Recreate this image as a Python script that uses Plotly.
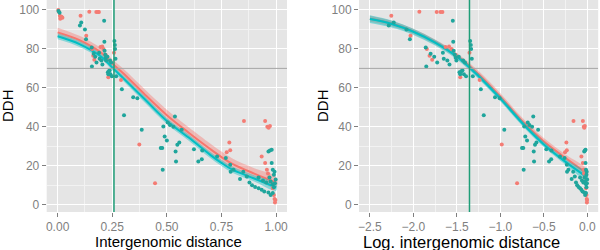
import numpy as np
import plotly.graph_objects as go

# ---------------- data ----------------
red_dist = [0.003, 0.006, 0.010, 0.014, 0.018, 0.022, 0.012,
            0.105, 0.131, 0.145, 0.177, 0.185, 0.189,
            0.158, 0.163, 0.168, 0.196, 0.204, 0.210, 0.220,
            0.232, 0.258, 0.290, 0.374, 0.446,
            0.774, 0.786, 0.790, 0.853,
            0.950, 0.960, 0.966, 0.972,
            0.934, 0.950, 0.958, 0.963, 0.968, 0.975, 0.985,
            0.990, 0.993, 0.997, 0.995]
red_ddh = [100, 99, 97, 96, 96.5, 96, 95.5,
           97, 86.8, 99.1, 99, 99, 99,
           80, 76.5, 74.5, 81, 81.2, 80, 77,
           65.5, 78, 64, 31, 11.1,
           27, 32, 28, 43,
           43, 40, 39.5, 40.5,
           24.8, 21.5, 18, 16, 14, 12, 8.5,
           5, 3, 2.5, 1.2]

teal_dist = [0.004, 0.009,
             0.102, 0.108, 0.125, 0.130, 0.156, 0.157, 0.165, 0.172, 0.178,
             0.190, 0.192, 0.200, 0.205, 0.213, 0.214, 0.215, 0.218, 0.220,
             0.222, 0.228, 0.230, 0.232, 0.235, 0.238, 0.242, 0.240, 0.245,
             0.248, 0.260, 0.262, 0.263, 0.265, 0.268,
             0.294, 0.304, 0.346, 0.365, 0.385,
             0.472, 0.479, 0.481, 0.484, 0.490, 0.500, 0.504, 0.514, 0.530,
             0.537, 0.540, 0.542, 0.548, 0.557, 0.568,
             0.624, 0.644, 0.660, 0.662, 0.730, 0.770, 0.790, 0.792, 0.805,
             0.835, 0.850, 0.866, 0.878, 0.890, 0.904, 0.920, 0.934, 0.946,
             0.965, 0.920, 0.940, 0.955,
             0.965, 0.972, 0.980, 0.980, 0.985, 0.990,
             0.970, 0.975, 0.985, 0.990, 0.995, 0.998, 0.993, 0.975, 0.985]
teal_ddh = [99.5, 98.5,
            92, 93.5, 90, 85, 80.7, 71, 77.5, 76, 73,
            78, 75, 74, 72, 94.4, 83.7, 79, 77, 75.5,
            74, 76, 68, 67, 68.5, 69, 67, 74, 73,
            66, 84, 82, 80, 75, 66,
            59.3, 46, 55.2, 54.7, 38.5,
            29.1, 29.1, 18, 40.2, 35, 33, 42.2, 41, 40,
            45.3, 27.3, 22.2, 30.8, 32, 38.5,
            28.5, 22.2, 23.4, 27.8, 24.8, 24, 20.5, 17, 18,
            13.3, 17, 14.5, 11.4, 10, 9.1, 8.5, 7.7, 6.8,
            6.3, 14, 12.5, 11.5,
            27.3, 27.8, 28.2, 21.4, 18, 15.4,
            14, 12, 10.5, 9, 11, 13, 17, 5, 6]

# fitted curves (left panel: distance)
fit_dist = [0.0, 0.1, 0.2, 0.25, 0.3, 0.4, 0.5, 0.6, 0.7, 0.75, 0.8, 0.9, 1.0]
fit_red_left = [88.5, 84.5, 78, 72.5, 67.5, 56.5, 46, 37, 28.5, 24.5, 21, 16, 11.5]
fit_teal_left = [86.5, 82.5, 76, 70.5, 65, 54, 43, 34.5, 25.5, 21.5, 18, 13.5, 9]
band_red_left = [2.4, 2.2, 2.2, 2.2, 2.4, 2.7, 2.8, 2.8, 2.8, 2.8, 2.8, 2.8, 2.8]
band_teal_left = [1.6, 1.5, 1.4, 1.4, 1.5, 1.6, 1.6, 1.6, 1.6, 1.6, 1.6, 1.6, 1.8]

# right panel: log distance
fit_log = [-2.5, -2.25, -2.0, -1.75, -1.5, -1.25, -1.0, -0.75, -0.5, -0.25, 0.0]
fit_red_right = [95.5, 93, 89, 83.5, 76.5, 67, 55.5, 43, 32.5, 24, 16]
fit_teal_right = [95.3, 92.8, 88.8, 83.2, 76, 66, 54.5, 42, 31, 22, 14]
band_red_right = [1.5, 1.4, 1.3, 1.3, 1.4, 1.6, 1.8, 1.8, 1.8, 1.8, 2.0]
band_teal_right = [2.0, 1.8, 1.6, 1.5, 1.4, 1.4, 1.4, 1.4, 1.4, 1.5, 1.8]

threshold_ddh = 70
threshold_dist = 0.258

x_ticks_left = [0.0, 0.25, 0.5, 0.75, 1.0]
x_ticklabels_left = ["0.00", "0.25", "0.50", "0.75", "1.00"]
x_ticks_right = [-2.5, -2.0, -1.5, -1.0, -0.5, 0.0]
x_ticklabels_right = ["\u22122.5", "\u22122.0", "\u22121.5", "\u22121.0", "\u22120.5", "0.0"]
y_ticks = [0, 20, 40, 60, 80, 100]

# ---------------- styling ----------------
RED = "#F8766D"
TEAL = "#00BFC4"
RED_PT = "#F47C74"
TEAL_PT = "#1FA59C"
VLINE = "#1F9E78"
FONT = "Liberation Sans"

fig = go.Figure()


def add_fit(xs, ys, band, color, fill, xa, ya):
    xs = list(xs)
    up = [y + b for y, b in zip(ys, band)]
    lo = [y - b for y, b in zip(ys, band)]
    fig.add_trace(go.Scatter(x=xs + xs[::-1], y=up + lo[::-1], fill="toself",
                             fillcolor=fill, line=dict(width=0, shape="spline"), mode="lines",
                             hoverinfo="skip", showlegend=False, xaxis=xa, yaxis=ya))
    fig.add_trace(go.Scatter(x=xs, y=ys, mode="lines", line=dict(color=color, width=2, shape="spline"),
                             showlegend=False, xaxis=xa, yaxis=ya))


def add_points(xs, ys, color, xa, ya):
    fig.add_trace(go.Scatter(x=xs, y=ys, mode="markers",
                             marker=dict(color=color, size=4, line=dict(width=0)),
                             showlegend=False, xaxis=xa, yaxis=ya))


# left panel
add_fit(fit_dist, fit_red_left, band_red_left, RED, "rgba(248,118,109,0.40)", "x", "y")
add_fit(fit_dist, fit_teal_left, band_teal_left, TEAL, "rgba(0,191,196,0.40)", "x", "y")
add_points(red_dist, red_ddh, RED_PT, "x", "y")
add_points(teal_dist, teal_ddh, TEAL_PT, "x", "y")

# right panel
log_red = list(np.log(np.array(red_dist)))
log_teal = list(np.log(np.array(teal_dist)))
add_fit(fit_log, fit_red_right, band_red_right, RED, "rgba(248,118,109,0.40)", "x2", "y2")
add_fit(fit_log, fit_teal_right, band_teal_right, TEAL, "rgba(0,191,196,0.45)", "x2", "y2")
add_points(log_red, red_ddh, RED_PT, "x2", "y2")
add_points(log_teal, teal_ddh, TEAL_PT, "x2", "y2")

# reference lines
for xa, ya, xr, xv in [("x", "y", [-0.05, 1.05], threshold_dist),
                       ("x2", "y2", [-2.625, 0.125], float(np.log(threshold_dist)))]:
    fig.add_trace(go.Scatter(x=xr, y=[threshold_ddh, threshold_ddh], mode="lines",
                             line=dict(color="#A3A3A3", width=1), showlegend=False,
                             xaxis=xa, yaxis=ya))
    fig.add_trace(go.Scatter(x=[xv, xv], y=[-10, 120], mode="lines",
                             line=dict(color=VLINE, width=1.5), showlegend=False,
                             xaxis=xa, yaxis=ya))

tickfont = dict(family=FONT, size=12, color="#7F7F7F")
common_axis = dict(showline=False, zeroline=False, ticks="outside", ticklen=4,
                   tickcolor="#7F7F7F", tickwidth=1, gridcolor="white", gridwidth=1.1,
                   tickfont=tickfont, fixedrange=True, automargin=False)

minor_x_left = [0.125, 0.375, 0.625, 0.875]
minor_x_right = [-2.25, -1.75, -1.25, -0.75, -0.25]
minor_y = [10, 30, 50, 70, 90]

fig.update_layout(
    width=600, height=250,
    margin=dict(l=0, r=0, t=0, b=0, autoexpand=False),
    paper_bgcolor="white", plot_bgcolor="#E5E5E5",
    xaxis=dict(domain=[46.7 / 600, 287 / 600], range=[-0.05, 1.05], anchor="y",
               tickvals=x_ticks_left, ticktext=x_ticklabels_left,
               minor=dict(tickvals=minor_x_left, showgrid=True, gridcolor="#F2F2F2", gridwidth=0.6, ticks=""),
               **common_axis),
    yaxis=dict(domain=[1 - 212 / 250, 1], range=[-3.7, 105.1], anchor="x",
               tickvals=y_ticks,
               minor=dict(tickvals=minor_y, showgrid=True, gridcolor="#F2F2F2", gridwidth=0.6, ticks=""),
               **common_axis),
    xaxis2=dict(domain=[359 / 600, 598.2 / 600], range=[-2.625, 0.125], anchor="y2",
                tickvals=x_ticks_right, ticktext=x_ticklabels_right,
                minor=dict(tickvals=minor_x_right, showgrid=True, gridcolor="#F2F2F2", gridwidth=0.6, ticks=""),
                **common_axis),
    yaxis2=dict(domain=[1 - 212 / 250, 1], range=[-3.7, 105.1], anchor="x2",
                tickvals=y_ticks,
                minor=dict(tickvals=minor_y, showgrid=True, gridcolor="#F2F2F2", gridwidth=0.6, ticks=""),
                **common_axis),
    showlegend=False,
)

annots = [
    dict(text="DDH", x=8 / 600, y=1 - 106 / 250, textangle=-90, size=15),
    dict(text="DDH", x=323 / 600, y=1 - 106 / 250, textangle=-90, size=15),
    dict(text="Intergenomic distance", x=168 / 600, y=1 - 241 / 250, textangle=0, size=15),
    dict(text="Log. intergenomic distance", x=461 / 600, y=1 - 241.5 / 250, textangle=0, size=16.5),
]
for a in annots:
    size = a.pop("size")
    fig.add_annotation(xref="paper", yref="paper", showarrow=False,
                       font=dict(family=FONT, size=size, color="black"),
                       xanchor="center", yanchor="middle", **a)

fig.write_html("out.html", config={"displayModeBar": False},
               post_script="document.body.style.margin='0';document.body.style.padding='0';")
